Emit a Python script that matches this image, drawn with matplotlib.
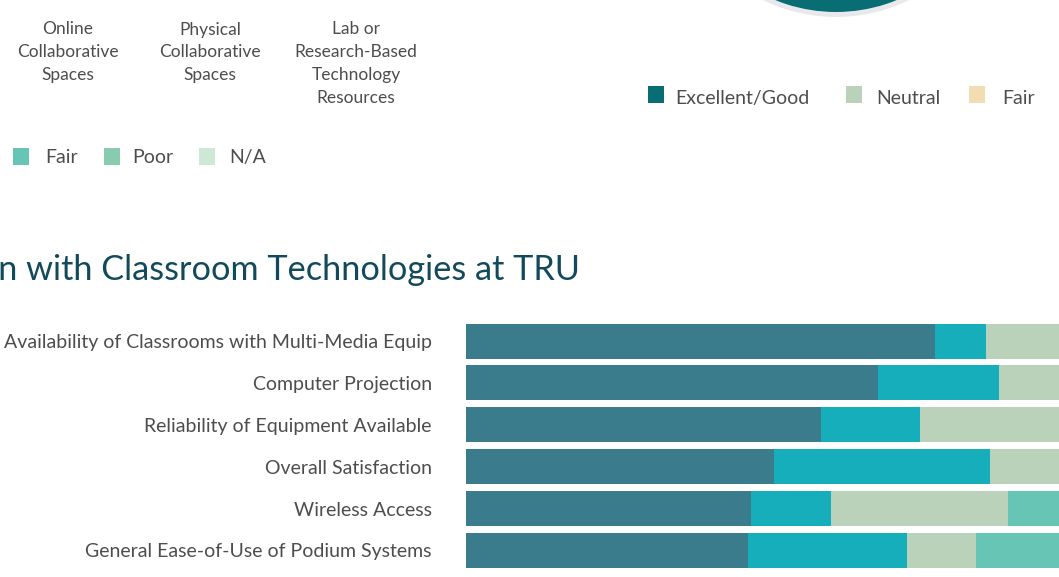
import matplotlib
matplotlib.use("Agg")
import matplotlib.pyplot as plt
from matplotlib.patches import Rectangle, Circle

plt.rcParams['font.family'] = ['Lato', 'DejaVu Sans']

W, H = 1059, 577

# ---- data ----
categories = [
    "Availability of Classrooms with Multi-Media Equip",
    "Computer Projection",
    "Reliability of Equipment Available",
    "Overall Satisfaction",
    "Wireless Access",
    "General Ease-of-Use of Podium Systems",
]
series_names = ["Excellent", "Good", "Neutral", "Fair"]
excellent = [74, 65, 56, 48.6, 45, 44.5]
good = [8, 19, 15.6, 34, 12.5, 25]
neutral = [18, 16, 28.4, 17.4, 28, 11]
fair = [0, 0, 0, 0, 14.5, 19.5]

bar_colors = ["#3A7B8C", "#15AEBA", "#BAD2BA", "#66C5B4"]

column_labels = ["Online\nCollaborative\nSpaces", "Physical\nCollaborative\nSpaces",
                 "Lab or\nResearch-Based\nTechnology\nResources"]

top_legend = ["Excellent/Good", "Neutral", "Fair"]
top_legend_colors = ["#086E73", "#B9D2B9", "#F2DDB3"]
left_legend = ["Fair", "Poor", "N/A"]
left_legend_colors = ["#66C5B4", "#88CBAE", "#CDE8D4"]

pie_values = [80, 12, 8]
pie_colors = ["#086E73", "#B9D2B9", "#F2DDB3"]

title = "Satisfaction with Classroom Technologies at TRU"

fig = plt.figure(figsize=(W / 100, H / 100), dpi=100)
fig.patch.set_facecolor("white")

def fx(px):
    return px / W

def fy(py):
    return 1 - py / H

# ---- bar chart ----
row_c0, row_sp = 341.0, 41.9
top_px = row_c0 - row_sp / 2
bot_px = row_c0 + 5 * row_sp + row_sp / 2
ax = fig.add_axes([fx(466), fy(bot_px), fx(W - 466), (bot_px - top_px) / H])
px_per_unit = 6.34
ax.set_xlim(0, (W - 466) / px_per_unit)
ax.set_ylim(len(categories) - 0.5, -0.5)
ypos = list(range(len(categories)))
left = [0] * len(categories)
for vals, col in zip([excellent, good, neutral, fair], bar_colors):
    ax.barh(ypos, vals, left=left, height=35 / row_sp, color=col, linewidth=0)
    left = [l + v for l, v in zip(left, vals)]
ax.set_yticks(ypos)
ax.set_yticklabels(categories, fontsize=14.0, color="#4D4D4D")
ax.tick_params(axis="y", length=0, pad=24.5)
ax.tick_params(axis="x", bottom=False, labelbottom=False)
for s in ax.spines.values():
    s.set_visible(False)

# ---- title ----
fig.text(fx(580), fy(270), title, ha="right", va="center", fontsize=24.7,
         color="#124A5C")

# ---- donut / pie at top ----
R_out = 166
pax = fig.add_axes([fx(836 - R_out), fy(-149 + R_out), 2 * R_out / W, 2 * R_out / H])
pax.add_patch(Circle((0, 0), 1.0, color="#E9E9ED", linewidth=0))
pax.pie(pie_values, colors=pie_colors, radius=161 / R_out, startangle=-90 - 0.8 * 180,
        counterclock=True, wedgeprops=dict(linewidth=0))
pax.set_xlim(-1, 1)
pax.set_ylim(-1, 1)
pax.set_aspect("equal")
pax.axis("off")

# ---- column labels ----
for x, lab in zip([68, 210, 356], column_labels):
    fig.text(fx(x), fy(21.5), lab, ha="center", va="top", fontsize=12.5,
             color="#4D4D4D", linespacing=1.52)

# ---- top-right legend ----
for (sx, tx), lab, col in zip([(648, 675), (846, 876), (969, 1002)], top_legend, top_legend_colors):
    fig.add_artist(Rectangle((fx(sx), fy(103)), fx(16), 17 / H, color=col,
                             transform=fig.transFigure, linewidth=0))
    fig.text(fx(tx), fy(98.5), lab, ha="left", va="center", fontsize=14, color="#4D4D4D")

# ---- left legend ----
for (sx, tx), lab, col in zip([(13, 45), (104, 132), (199, 229)], left_legend, left_legend_colors):
    fig.add_artist(Rectangle((fx(sx), fy(165)), fx(16), 17 / H, color=col,
                             transform=fig.transFigure, linewidth=0))
    fig.text(fx(tx), fy(157.5), lab, ha="left", va="center", fontsize=14, color="#4D4D4D")

fig.savefig("out.png", dpi=100, facecolor="white")
